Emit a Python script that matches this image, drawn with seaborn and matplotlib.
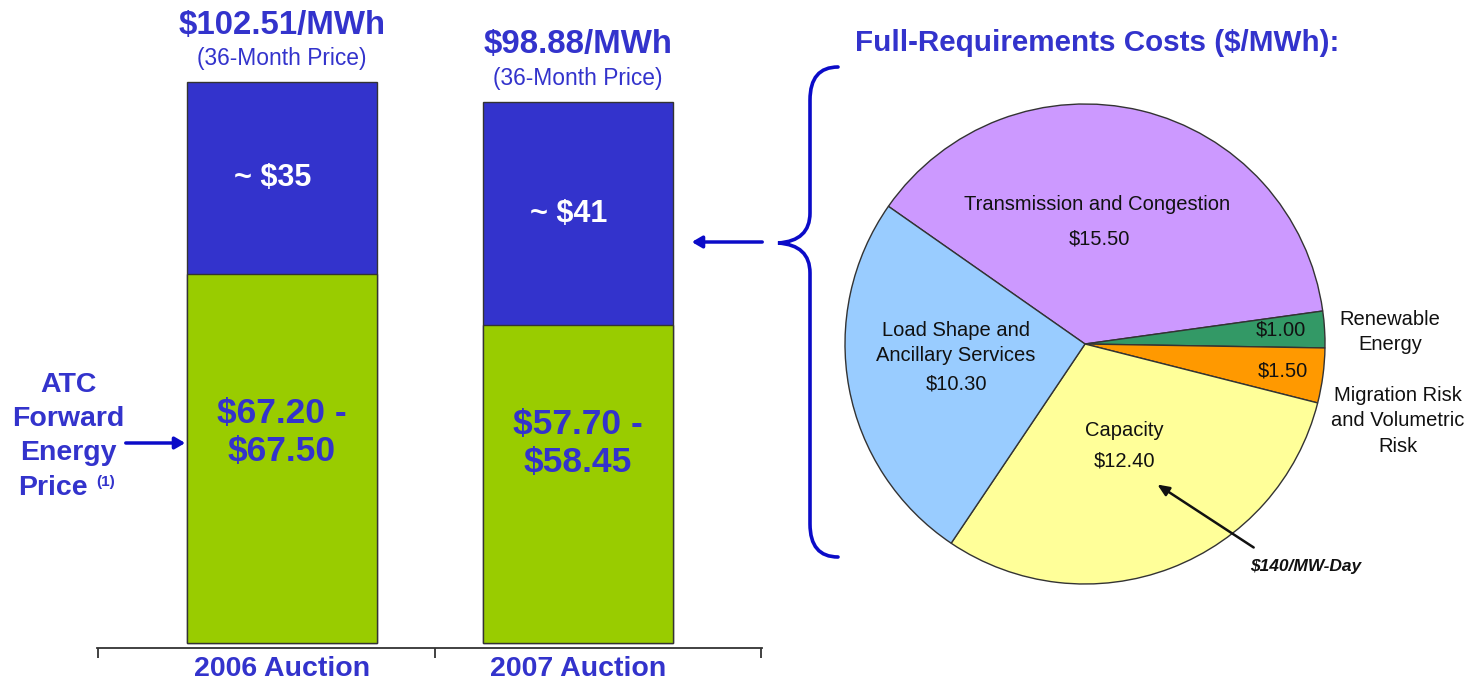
import matplotlib
matplotlib.use("Agg")
import matplotlib.pyplot as plt
from matplotlib import font_manager
from matplotlib.path import Path
from matplotlib.patches import PathPatch, FancyArrowPatch
import seaborn as sns

# Data
auctions = ["2006 Auction", "2007 Auction"]
total_price = [102.51, 98.88]
energy_price = [67.35, 58.08]
top_labels = ["$102.51/MWh", "$98.88/MWh"]
blue_labels = ["~ $35", "~ $41"]
green_labels = ["$67.20 -\n$67.50", "$57.70 -\n$58.45"]

cost_names = ["Transmission and Congestion", "Renewable Energy",
              "Migration Risk and Volumetric Risk", "Capacity",
              "Load Shape and Ancillary Services"]
cost_values = [15.50, 1.00, 1.50, 12.40, 10.30]
cost_colors = ["#CC99FF", "#339966", "#FF9900", "#FFFF99", "#99CCFF"]

BLUE = "#3333CC"
BAR_BLUE = "#3333CC"
GREEN = "#99CC00"
BRACE = "#0B0BC8"

sns.set_style("white")
plt.rcParams["font.family"] = ["Liberation Sans", "DejaVu Sans"]

names = {f.name for f in font_manager.fontManager.ttflist}
if "Liberation Sans Narrow" in names:
    NARROW = ["Liberation Sans Narrow", "Liberation Sans"]
    nscale = 1.0
else:
    NARROW = ["Liberation Sans", "DejaVu Sans"]
    nscale = 0.82

W, H = 1481, 686
fig = plt.figure(figsize=(W / 100, H / 100), dpi=100)


def fx(x):
    return x / W


def fy(y):
    return 1 - y / H


# ---- stacked bars ----
ax = fig.add_axes([fx(97), fy(648), 665 / W, 607 / H])
sns.barplot(x=auctions, y=total_price, color=BAR_BLUE, saturation=1,
            width=0.64, edgecolor="#333333", linewidth=1, ax=ax)
sns.barplot(x=auctions, y=energy_price, color=GREEN, saturation=1,
            width=0.64, edgecolor="#333333", linewidth=1, ax=ax)
ax.set_xlim(-0.625, 1.622)
ax.set_ylim(-0.9, 110)
ax.set_yticks([])
ax.set_xlabel("")
ax.set_ylabel("")
for s in ["left", "top", "right"]:
    ax.spines[s].set_visible(False)
ax.spines["bottom"].set_color("#333333")
ax.spines["bottom"].set_linewidth(1.3)
ax.set_xticks([0, 1], labels=auctions)
ax.set_xticks([-0.62, 0.517, 1.618], minor=True)
ax.tick_params(axis="x", which="major", bottom=True, length=0, pad=5.5)
ax.tick_params(axis="x", which="minor", bottom=True, length=7.5, width=1.3,
               color="#333333", direction="out")
for t in ax.get_xticklabels():
    t.set_fontfamily(NARROW)
    t.set_fontweight("bold")
    t.set_fontsize(25 * nscale)
    t.set_color(BLUE)

green_text_y = [38.5, 36.4]
for i in range(len(auctions)):
    ax.annotate(top_labels[i], (i, total_price[i]), xytext=(0, 41),
                textcoords="offset points", ha="center", va="center",
                fontsize=29 * nscale, fontweight="bold", color=BLUE,
                family=NARROW)
    ax.annotate("(36-Month Price)", (i, total_price[i]), xytext=(0, 17),
                textcoords="offset points", ha="center", va="center",
                fontsize=20 * nscale, color=BLUE, family=NARROW)
    ax.text(i - 0.03, (total_price[i] + energy_price[i]) / 2, blue_labels[i],
            ha="center", va="center", fontsize=22, fontweight="bold",
            color="white")
    ax.text(i, green_text_y[i], green_labels[i], ha="center", va="center",
            fontsize=25.5, fontweight="bold", color=BLUE, linespacing=1.2)

# left caption
fig.text(fx(68), fy(419), "ATC\nForward\nEnergy", ha="center", va="center",
         fontsize=20.5, fontweight="bold", color=BLUE, linespacing=1.4)
fig.text(fx(88), fy(488), "Price", ha="right", va="center",
         fontsize=20.5, fontweight="bold", color=BLUE)
fig.text(fx(96), fy(482), "(1)", ha="left", va="center",
         fontsize=11, fontweight="bold", color=BLUE)
fig.add_artist(FancyArrowPatch(
    (fx(123), fy(443)), (fx(188), fy(443)), transform=fig.transFigure,
    arrowstyle="-|>,head_length=6,head_width=3.5", color=BRACE, lw=2.5))

# brace and arrow
pts = [(838, 67), (810, 67), (810, 100), (810, 213), (810, 241), (778, 243),
       (810, 245), (810, 273), (810, 524), (810, 557), (838, 557)]
codes = [Path.MOVETO, Path.CURVE3, Path.CURVE3, Path.LINETO, Path.CURVE3,
         Path.CURVE3, Path.CURVE3, Path.CURVE3, Path.LINETO, Path.CURVE3,
         Path.CURVE3]
brace = Path([(fx(x), fy(y)) for x, y in pts], codes)
fig.add_artist(PathPatch(brace, transform=fig.transFigure, fill=False,
                         edgecolor=BRACE, lw=2.6, capstyle="round",
                         joinstyle="miter"))
fig.add_artist(FancyArrowPatch(
    (fx(765), fy(242)), (fx(689), fy(242)), transform=fig.transFigure,
    arrowstyle="-|>,head_length=6,head_width=3.5", color=BRACE, lw=2.5))

fig.text(fx(1097), fy(43), "Full-Requirements Costs ($/MWh):", ha="center",
         va="center", fontsize=21.3, fontweight="bold", color=BLUE)

# ---- pie ----
CX, CY, R = 1085, 344, 240
axp = fig.add_axes([fx(CX - R), fy(CY + R), 2 * R / W, 2 * R / H])
axp.pie(cost_values, colors=cost_colors, startangle=145, counterclock=False,
        radius=1, wedgeprops=dict(edgecolor="#333333", linewidth=1))
axp.set_xlim(-1, 1)
axp.set_ylim(-1, 1)
axp.axis("off")


def pp(x, y):
    return (x - CX) / R, (CY - y) / R


pie_text = [
    ("Transmission and Congestion", 1097, 205),
    ("$15.50", 1099, 239),
    ("Load Shape and\nAncillary Services", 956, 343),
    ("$10.30", 956, 384),
    ("Capacity", 1124, 431),
    ("$12.40", 1124, 461),
    ("$1.00", 1281, 330),
    ("$1.50", 1283, 371),
    ("Renewable\nEnergy", 1390, 332),
    ("Migration Risk\nand Volumetric\nRisk", 1398, 421),
]
for txt, x, y in pie_text:
    axp.text(*pp(x, y), txt, ha="center", va="center", fontsize=14.5,
             color="#111111", linespacing=1.45)

axp.annotate("", xy=pp(1155, 483), xytext=pp(1256, 549),
             arrowprops=dict(arrowstyle="-|>,head_length=0.7,head_width=0.3",
                             color="#111111", lw=1.8))
axp.text(*pp(1306, 566), "$140/MW-Day", ha="center", va="center",
         fontsize=12.5, fontweight="bold", fontstyle="italic",
         color="#111111")

fig.savefig("out.png", dpi=100)
